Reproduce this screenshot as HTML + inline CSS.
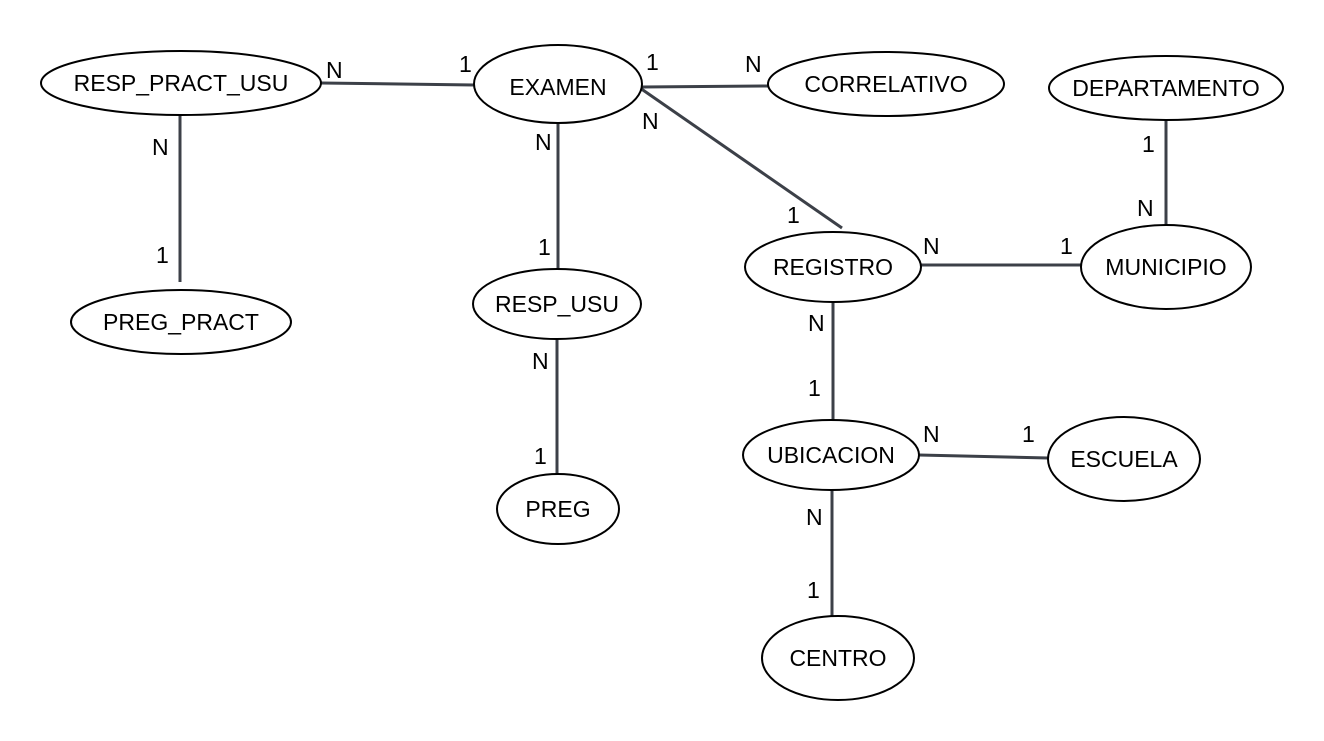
<!DOCTYPE html>
<html><head><meta charset="utf-8"><style>
html,body{margin:0;padding:0;background:#fff;}
svg{display:block;}
text{font-family:"Liberation Sans",sans-serif;font-size:23px;fill:#000;}
.l{stroke:#3c4048;stroke-width:3;fill:none;}
ellipse{fill:#fff;stroke:#000;stroke-width:2;}
</style></head><body>
<svg width="1324" height="741" viewBox="0 0 1324 741">
<line class="l" x1="321" y1="83" x2="474" y2="85"/>
<line class="l" x1="642" y1="87" x2="768" y2="86"/>
<line class="l" x1="640" y1="88" x2="842" y2="228"/>
<line class="l" x1="180" y1="115" x2="180" y2="282"/>
<line class="l" x1="558" y1="122" x2="558" y2="269"/>
<line class="l" x1="557" y1="340" x2="557" y2="474"/>
<line class="l" x1="1166" y1="120" x2="1166" y2="225"/>
<line class="l" x1="921" y1="265" x2="1081" y2="265"/>
<line class="l" x1="833" y1="302" x2="833" y2="420"/>
<line class="l" x1="919" y1="455" x2="1048" y2="458"/>
<line class="l" x1="832" y1="490" x2="832" y2="616"/>

<ellipse cx="181" cy="83" rx="140" ry="32"/>
<ellipse cx="558" cy="84" rx="84" ry="39"/>
<ellipse cx="886" cy="84" rx="118" ry="32"/>
<ellipse cx="1166" cy="88" rx="117" ry="32"/>
<ellipse cx="833" cy="267" rx="88" ry="35"/>
<ellipse cx="1166" cy="267" rx="85" ry="42"/>
<ellipse cx="557" cy="304" rx="84" ry="35"/>
<ellipse cx="181" cy="322" rx="110" ry="32"/>
<ellipse cx="831" cy="455" rx="88" ry="35"/>
<ellipse cx="1124" cy="459" rx="76" ry="42"/>
<ellipse cx="558" cy="509" rx="61" ry="35"/>
<ellipse cx="838" cy="658" rx="76" ry="42"/>

<g text-anchor="middle">
<text x="181" y="91">RESP_PRACT_USU</text>
<text x="558" y="95">EXAMEN</text>
<text x="886" y="92">CORRELATIVO</text>
<text x="1166" y="96">DEPARTAMENTO</text>
<text x="833" y="275">REGISTRO</text>
<text x="1166" y="275">MUNICIPIO</text>
<text x="557" y="312">RESP_USU</text>
<text x="181" y="330">PREG_PRACT</text>
<text x="831" y="463">UBICACION</text>
<text x="1124" y="467">ESCUELA</text>
<text x="558" y="517">PREG</text>
<text x="838" y="666">CENTRO</text>
</g>
<g>
<text x="326" y="78">N</text>
<text x="459" y="72">1</text>
<text x="646" y="70">1</text>
<text x="745" y="72">N</text>
<text x="642" y="129">N</text>
<text x="535" y="150">N</text>
<text x="787" y="223">1</text>
<text x="152" y="155">N</text>
<text x="156" y="263">1</text>
<text x="538" y="255">1</text>
<text x="532" y="369">N</text>
<text x="534" y="464">1</text>
<text x="1142" y="152">1</text>
<text x="1137" y="216">N</text>
<text x="923" y="254">N</text>
<text x="1060" y="254">1</text>
<text x="808" y="331">N</text>
<text x="808" y="396">1</text>
<text x="923" y="442">N</text>
<text x="1022" y="442">1</text>
<text x="806" y="525">N</text>
<text x="807" y="598">1</text>
</g>
</svg>
</body></html>
